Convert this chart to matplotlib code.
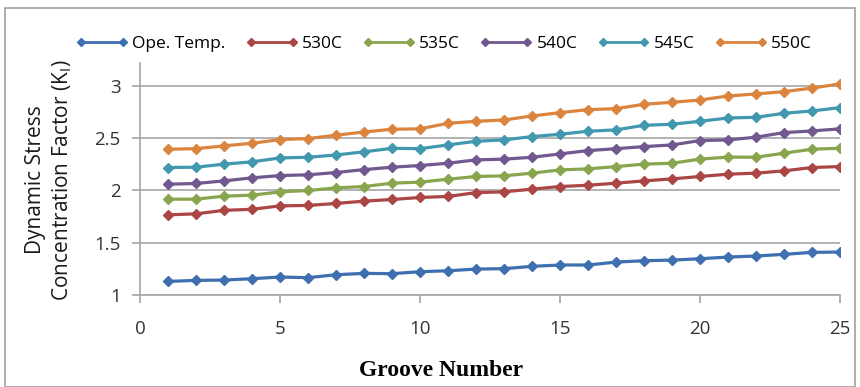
import matplotlib
matplotlib.use("Agg")
import matplotlib.pyplot as plt
from matplotlib.patches import Rectangle

grooves = list(range(1, 26))
ope_temp = [1.13, 1.14, 1.143, 1.156, 1.172, 1.166, 1.194, 1.207, 1.204, 1.223, 1.232, 1.248,
            1.252, 1.274, 1.287, 1.287, 1.315, 1.328, 1.334, 1.347, 1.363, 1.373, 1.389, 1.408, 1.411]
t530 = [1.767, 1.777, 1.81, 1.82, 1.853, 1.857, 1.876, 1.898, 1.914, 1.933, 1.943, 1.98,
        1.987, 2.013, 2.038, 2.05, 2.07, 2.092, 2.111, 2.134, 2.156, 2.166, 2.188, 2.22, 2.229]
t535 = [1.917, 1.917, 1.946, 1.955, 1.987, 2.0, 2.025, 2.038, 2.07, 2.08, 2.108, 2.134,
        2.14, 2.166, 2.197, 2.207, 2.229, 2.252, 2.261, 2.30, 2.32, 2.318, 2.357, 2.395, 2.404]
t540 = [2.06, 2.067, 2.092, 2.121, 2.143, 2.15, 2.172, 2.20, 2.223, 2.239, 2.261, 2.293,
        2.30, 2.318, 2.35, 2.382, 2.40, 2.42, 2.436, 2.478, 2.484, 2.51, 2.554, 2.57, 2.59]
t545 = [2.22, 2.223, 2.252, 2.274, 2.312, 2.318, 2.34, 2.37, 2.404, 2.40, 2.436, 2.471,
        2.484, 2.516, 2.538, 2.567, 2.58, 2.624, 2.634, 2.662, 2.694, 2.70, 2.739, 2.761, 2.793]
t550 = [2.395, 2.40, 2.427, 2.452, 2.487, 2.497, 2.529, 2.56, 2.586, 2.59, 2.643, 2.662,
        2.675, 2.713, 2.745, 2.774, 2.783, 2.825, 2.844, 2.866, 2.904, 2.924, 2.946, 2.98, 3.02]

series_labels = ["Ope. Temp.", "530C", "535C", "540C", "545C", "550C"]
series_colors = ["#3E6FB0", "#AA4643", "#89A54E", "#71588F", "#4198AF", "#DB843D"]
series_values = [ope_temp, t530, t535, t540, t545, t550]

x_ticks = [0, 5, 10, 15, 20, 25]
y_ticks = [1, 1.5, 2, 2.5, 3]

fig = plt.figure(figsize=(8.6, 3.87), dpi=100)
ax = fig.add_axes([140/860, 1-295/387, 700/860, (295-63)/387])

for lab, col, vals in zip(series_labels, series_colors, series_values):
    ax.plot(grooves, vals, color=col, lw=2.3, marker="D", markersize=5,
            markeredgecolor=col, label=lab)

ax.set_xlim(0, 25)
ax.set_ylim(1, 3.22)
ax.set_xticks(x_ticks)
ax.set_yticks(y_ticks)
ax.set_yticklabels(["1", "1.5", "2", "2.5", "3"])
ax.yaxis.grid(True, color="#A6A6A6", lw=1.2)
ax.set_axisbelow(True)
for s in ["top", "right"]:
    ax.spines[s].set_visible(False)
for s in ["left", "bottom"]:
    ax.spines[s].set_color("#A6A6A6")
    ax.spines[s].set_linewidth(1.2)
ax.tick_params(axis="both", colors="#A6A6A6", labelcolor="#333333",
               labelsize=13.5, length=6, width=1.2)
ax.tick_params(axis="x", pad=12)
ax.tick_params(axis="y", pad=8)
for t in ax.get_xticklabels() + ax.get_yticklabels():
    t.set_fontfamily("Open Sans")

fig.text(441/860, 1-371/387, "Groove Number", ha="center", va="center",
         fontsize=17, fontweight="bold", family="Liberation Serif")
fig.text(36/860, 1-180/387, "Dynamic Stress", rotation=90, ha="center", va="center",
         fontsize=15, family="Open Sans", color="#1a1a1a", fontweight="medium")
fig.text(62/860, 1-180/387, r"Concentration Factor (K$_\mathregular{I}$)", rotation=90,
         ha="center", va="center", fontsize=15, family="Open Sans", color="#1a1a1a",
         fontweight="medium")

leg = fig.legend(loc="center", bbox_to_anchor=(444/860, 1-44/387), ncol=6, frameon=False,
                 numpoints=2, handlelength=3.0, handletextpad=0.25,
                 columnspacing=1.15, prop={"family": "Open Sans", "size": 12.5})
for h in leg.get_lines():
    h.set_linewidth(2.0)
    h.set_markersize(4.5)

fig.patches.append(Rectangle((5/860, 0), 850/860, 1-8/387, transform=fig.transFigure,
                             fill=False, edgecolor="#A0A0A0", lw=1.2))

fig.savefig("out.png", dpi=100)
